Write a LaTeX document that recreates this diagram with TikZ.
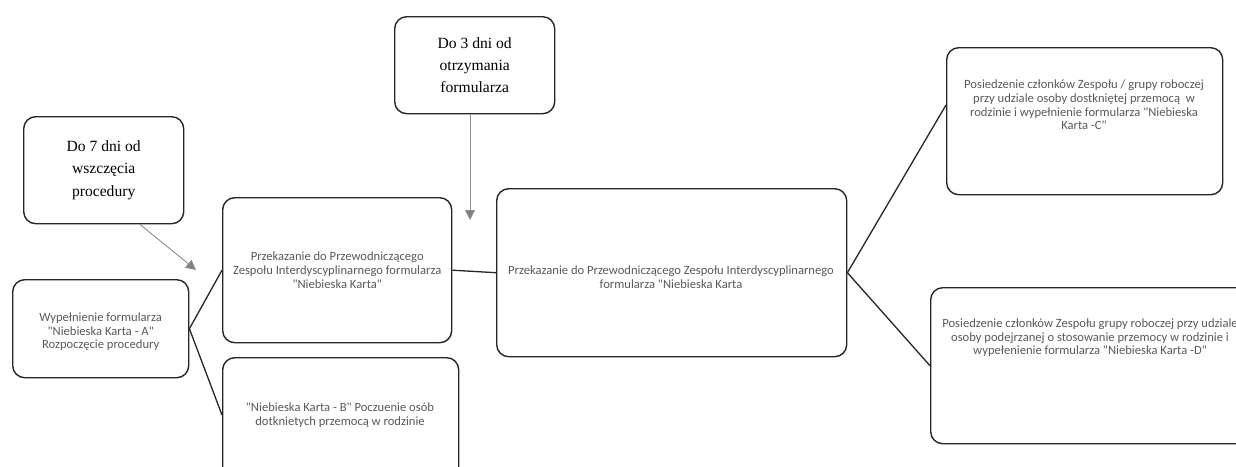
\documentclass[tikz,border=0pt]{standalone}
\usepackage{fontspec}
\setmainfont{Liberation Serif}
\newfontfamily\carl{Carlito}
\usetikzlibrary{arrows.meta}
\tikzset{
  box/.style={draw=black!85, line width=1.4pt, rounded corners=12pt, inner sep=0pt, anchor=north west},
  stxt/.style={font=\carl\fontsize{12.6}{13.6}\selectfont, text=black!65, align=center, inner sep=0pt},
  rtxt/.style={font=\fontsize{15.6}{22.3}\selectfont, text=black, align=center, inner sep=0pt},
  conn/.style={draw=black!85, line width=1.3pt},
  garrow/.style={draw=black!45, line width=0.9pt, -{Triangle[width=10pt,length=10pt,fill=black!50]}}
}
\begin{document}
\begin{tikzpicture}[x=1pt,y=1pt]
\useasboundingbox (0,0) rectangle (1236,-466);
\clip (0,0) rectangle (1236,-466);
% boxes
\node[box, minimum width=160pt, minimum height=107pt] (d7) at (23,-116) {};
\node[rtxt] (d7t) at (d7.center) {Do 7 dni od\\wszczęcia\\procedury};
\node[box, minimum width=160pt, minimum height=97pt] (d3) at (394,-16) {};
\node[rtxt] (d3t) at (d3.center) {Do 3 dni od\\otrzymania\\formularza};
\node[box, minimum width=176pt, minimum height=98pt] (a) at (12,-279) {};
\node[stxt] (at) at ([yshift=-3pt]a.center) {Wypełnienie formularza\\"Niebieska Karta - A"\\Rozpoczęcie procedury};
\node[box, minimum width=229pt, minimum height=145pt] (p1) at (222,-197) {};
\node[stxt] (p1t) at (p1.center) {Przekazanie do Przewodniczącego\\Zespołu Interdyscyplinarnego formularza\\"Niebieska Karta"};
\node[box, minimum width=236pt, minimum height=130pt] (b) at (222,-357) {};
\node[stxt] (bt) at (340,-415) {"Niebieska Karta - B" Poczuenie osób\\dotknietych przemocą w rodzinie};
\node[box, minimum width=350pt, minimum height=168pt] (p2) at (496,-188) {};
\node[stxt] (p2t) at (671,-277) {Przekazanie do Przewodniczącego Zespołu Interdyscyplinarnego\\formularza "Niebieska Karta};
\node[box, minimum width=276pt, minimum height=147pt] (c) at (946,-47) {};
\node[stxt] (ct) at (1084,-105) {Posiedzenie członków Zespołu / grupy roboczej\\przy udziale osoby dostkniętej przemocą\ \ w\\rodzinie i wypełnienie formularza "Niebieska\\Karta -C"};
\node[box, minimum width=320pt, minimum height=156pt] (d) at (930,-287) {};
\node[stxt] (dt) at (1090,-338) {Posiedzenie członków Zespołu grupy roboczej przy udziale\\osoby podejrzanej o stosowanie przemocy w rodzinie i\\wypełenienie formularza "Niebieska Karta -D"};
% connectors
\draw[conn] (a.east) -- (p1.west);
\draw[conn] (a.east) -- (b.west |- bt.center);
\draw[conn] (p1.east) -- (p2.west);
\draw[conn] (p2.east) -- (c.west |- ct.center);
\draw[conn] (p2.east) -- (d.west);
% arrows
\coordinate (t7) at (196,-270);
\coordinate (t3) at (470,-220);
\draw[garrow] (d7.south -| 140,0) -- (t7);
\draw[garrow] (d3.south -| t3) -- (t3);
\end{tikzpicture}
\end{document}
